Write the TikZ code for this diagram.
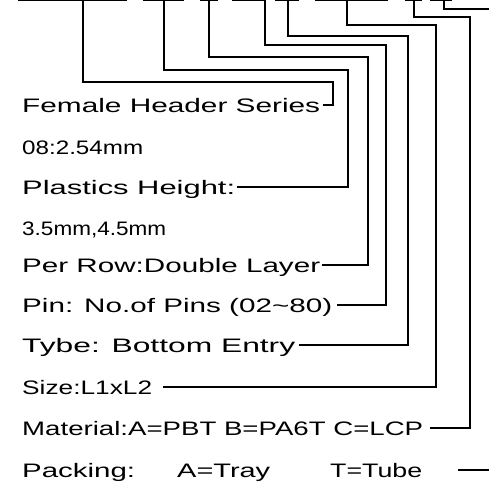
\documentclass[tikz,border=0pt]{standalone}
\usepackage{fontspec}
\usepackage{graphicx}
\newfontfamily\cadfont{Liberation Sans}
\usepackage{tikz}
\usetikzlibrary{positioning}
% set #2 stretched sideways to a width of #1 pt
\newcommand\fitw[2]{\setbox0=\hbox{#2}\pgfmathsetmacro\fitratio{#1/\wd0}%
  \scalebox{\fitratio}[1]{#2}}
\tikzset{
  spec/.style={anchor=west, inner xsep=0pt, inner ysep=0pt,
               text height=14pt, text depth=0pt,
               font=\cadfont\fontsize{19.5}{20}\selectfont},
  lead/.style={line width=1.4pt, line cap=rect, line join=miter},
  bar/.style={line width=1.4pt},
}

\begin{document}
\begin{tikzpicture}[x=1pt,y=-1pt]
\useasboundingbox (0,0) rectangle (489,484);

% ---- code fields along the top edge --------------------------------
\foreach \a/\b in {18/127,143/184,200/218,232/265,
                   275/299,315/388,405/422,430/452}
  \draw[bar] (\a,0.7) -- (\b,0.7);

% ---- texts ---------------------------------------------------------
\node[spec] (fhs)   at (22,105) {\fitw{298}{Female Header Series}};
\node[spec] (pitch) at (22,147) {\fitw{121}{08:2.54mm}};
\node[spec] (ph)    at (22,187) {\fitw{213}{Plastics Height:}};
\node[spec] (phv)   at (22,228) {\fitw{144}{3.5mm,4.5mm}};
\node[spec] (pr)    at (22,265) {\fitw{298}{Per Row:Double Layer}};
\node[spec] (pin)   at (22,305) {\fitw{310}{Pin: No.of Pins (02\textasciitilde 80)}};
\node[spec] (tybe)  at (22,345) {\fitw{273}{Tybe: Bottom Entry}};
\node[spec] (size)  at (22,387) {\fitw{130}{Size:L1xL2}};
\node[spec] (mat)   at (22,428) {\fitw{401}{Material:A=PBT B=PA6T C=LCP}};
\node[spec] (pack)  at (22,470) {\fitw{113}{Packing:}\hspace{42pt}%
  \fitw{93}{A=Tray}\hspace{60pt}\fitw{92}{T=Tube}};

% ---- leaders -------------------------------------------------------
\foreach \t/\j/\c/\l/\g in {83/82/333/fhs/3,164/70/348/ph/2,209/57/368/pr/2,
                            265/45/386/pin/5,288/36/408/tybe/4,
                            347/25/436/size/11,414/17/470/mat/7}
  \draw[lead] ([xshift=\g pt]\l.east) -- (\c,0 |- \l.east) |- (\t,\j) -- (\t,0.7);

\coordinate (edge) at (489,9);
\draw[lead] (444,0.7) |- (edge);
\draw[lead] ([xshift=36pt]pack.east) -- (pack.east -| edge);
\end{tikzpicture}
\end{document}
